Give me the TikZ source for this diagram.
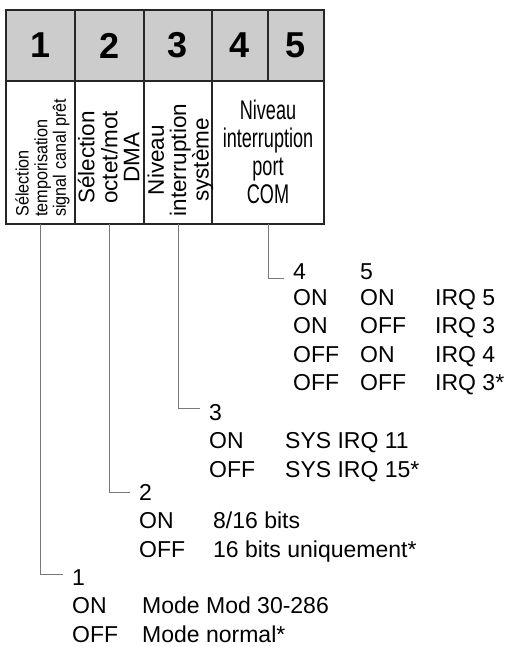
\documentclass[tikz,border=0pt]{standalone}
\usepackage{fontspec}
\setmainfont{Liberation Sans}
\newfontfamily\narrowsf[FakeStretch=0.67]{Liberation Sans}
\newfontfamily\slimsf[FakeStretch=0.9]{Liberation Sans}
\usepackage{xcolor}
\definecolor{HeadGray}{RGB}{204,204,204}
\definecolor{WireGray}{RGB}{120,120,120}
\usetikzlibrary{positioning}

\begin{document}
\begin{tikzpicture}[x=1pt, y=-1pt,
    hd/.style={rectangle, draw=black!85, line width=1.2pt, fill=HeadGray, outer sep=0pt,
              minimum height=71pt, inner sep=0pt, font=\fontsize{36}{36}\selectfont\bfseries},
    cell/.style={rectangle, draw=black!85, line width=1.2pt, outer sep=0pt,
              minimum height=143pt, inner sep=0pt},
    vtxt/.style={rotate=90, inner sep=0pt},
    opt/.style={anchor=base west, inner sep=0pt, font=\fontsize{23}{23}\selectfont},
    wire/.style={draw=WireGray, line width=1pt, shorten >=9pt}
]
    \useasboundingbox (0,0) rectangle (504,647);

    % switch numbers
    \node[hd, minimum width=69pt] (h1) at (40.5,45.5) {1};
    \node[hd, minimum width=69pt, right=0pt of h1] (h2) {2};
    \node[hd, minimum width=68pt, right=0pt of h2] (h3) {3};
    \node[hd, minimum width=56pt, right=0pt of h3] (h4) {4};
    \node[hd, minimum width=56pt, right=0pt of h4] (h5) {5};

    % functions
    \node[cell, minimum width=69pt, below=0pt of h1] (b1) {};
    \node[cell, minimum width=69pt, below=0pt of h2] (b2) {};
    \node[cell, minimum width=68pt, below=0pt of h3] (b3) {};
    \node[cell, minimum width=112pt, below=0pt of h4.south east] (b45) {};

    \node[vtxt, anchor=west, font=\slimsf\fontsize{18}{18.5}\selectfont] (t1)
        at ([xshift=3pt, yshift=7pt]b1.south)
        {\begin{tabular}{@{}l@{}}Sélection\\temporisation\\signal canal prêt\end{tabular}};
    \node[vtxt, font=\fontsize{22.5}{22}\selectfont] (t2)
        at ([xshift=2.5pt, yshift=-5pt]b2.center)
        {\begin{tabular}{@{}c@{}}Sélection\\octet/mot\\DMA\end{tabular}};
    \node[vtxt, font=\fontsize{22.5}{19.5}\selectfont] (t3)
        at ([xshift=3pt, yshift=-7.5pt]b3.center)
        {\begin{tabular}{@{}c@{}}Niveau\\interruption\\système\end{tabular}};
    \node[inner sep=0pt, font=\narrowsf\fontsize{27}{27.7}\selectfont] (t45)
        at ([yshift=-3.5pt]b45.center)
        {\begin{tabular}{@{}c@{}}Niveau\\interruption\\port\\COM\end{tabular}};

    % switches 4 and 5
    \node[opt] (k4) at (293,279) {4};
    \node[opt] (k5) at (360,279) {5};
    \node[opt] (r4a) at (293,305) {ON};
    \node[opt] (r5a) at (360,305) {ON};
    \node[opt] (q1) at (435,305) {IRQ 5};
    \node[opt] (r4b) at (293,333.5) {ON};
    \node[opt] (r5b) at (360,333.5) {OFF};
    \node[opt] (q2) at (435,333.5) {IRQ 3};
    \node[opt] (r4c) at (293,362) {OFF};
    \node[opt] (r5c) at (360,362) {ON};
    \node[opt] (q3) at (435,362) {IRQ 4};
    \node[opt] (r4d) at (293,390.5) {OFF};
    \node[opt] (r5d) at (360,390.5) {OFF};
    \node[opt] (q4) at (435,390.5) {IRQ 3*};

    % switch 3
    \node[opt] (k3) at (209,420) {3};
    \node[opt] (r3a) at (209,448) {ON};
    \node[opt] (s3a) at (285,448) {SYS IRQ 11};
    \node[opt] (r3b) at (209,477) {OFF};
    \node[opt] (s3b) at (285,477) {SYS IRQ 15*};

    % switch 2
    \node[opt] (k2) at (139,500) {2};
    \node[opt] (r2a) at (139,528) {ON};
    \node[opt] (s2a) at (213,528) {8/16 bits};
    \node[opt] (r2b) at (139,557) {OFF};
    \node[opt] (s2b) at (213,557) {16 bits uniquement*};

    % switch 1
    \node[opt] (k1) at (72,585) {1};
    \node[opt] (r1a) at (72,613) {ON};
    \node[opt] (s1a) at (142,613) {Mode Mod 30-286};
    \node[opt] (r1b) at (72,642) {OFF};
    \node[opt] (s1b) at (142,642) {Mode normal*};

    \draw[wire] (b1.south) |- ([yshift=3pt]k1.west);
    \draw[wire] (b2.south) |- ([yshift=-1pt]k2.west);
    \draw[wire] (b3.south) |- ([yshift=4pt]k3.west);
    \draw[wire] (b45.south) |- ([yshift=-7pt]k4.west);
\end{tikzpicture}
\end{document}
